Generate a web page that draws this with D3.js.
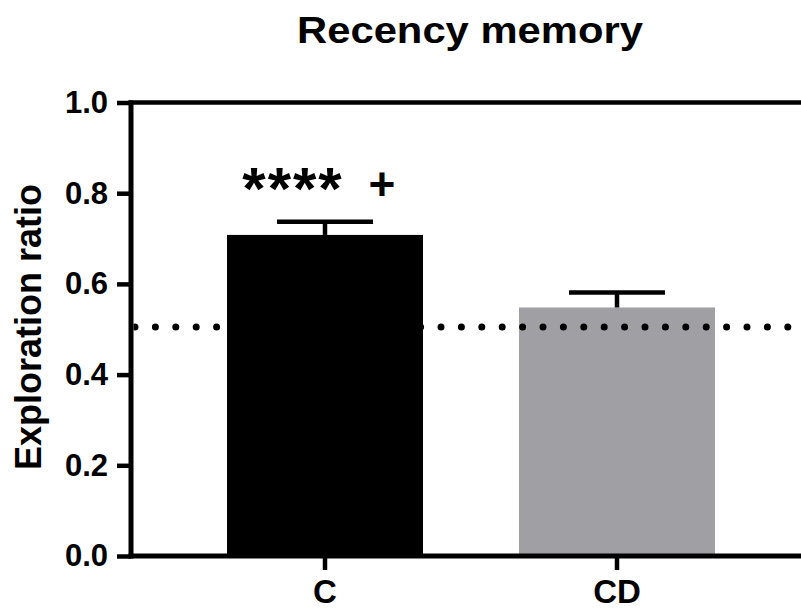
<!DOCTYPE html>
<head>
  <meta charset="UTF-8">
  <title>Recency memory</title>
  <style>
  body, html, svg{
    padding: 0;
    margin: 0;
  }
  body{
    background: #fff;
  }
  text{
    font-family: "Liberation Sans", Arial, Helvetica, sans-serif;
    font-weight: bold;
  }
  </style>
</head>
<body>
  <script src="https://cdn.jsdelivr.net/npm/d3@7"></script>
  <script type="text/javascript">
  var width = 801;
  var height = 609;

  // data
  var categories = ['C', 'CD'];
  var means = [0.708, 0.548];
  var sems = [0.029, 0.033];
  var barColors = ['#000000', '#a09fa4'];
  var yTicks = [0, 0.2, 0.4, 0.6, 0.8, 1.0];
  var chance = 0.505;
  var marks = ['****', '+'];

  var svg = d3.select('body')
    .append('svg')
    .attr('width', width)
    .attr('height', height);

  var pLeft = 131, pRight = 801, pTop = 102.5, pBottom = 556;

  var y = d3.scaleLinear().domain([0, 1]).range([pBottom, pTop]);
  var x = d3.scaleBand()
    .domain(categories)
    .range([179, 763])
    .paddingInner(0.3288)
    .paddingOuter(0.1644);

  // title
  svg.append('text')
    .attr('x', 297)
    .attr('y', 43)
    .attr('font-size', 36)
    .attr('textLength', 346)
    .attr('lengthAdjust', 'spacingAndGlyphs')
    .text('Recency memory');

  // y label
  svg.append('text')
    .attr('transform', 'translate(41,327) rotate(-90)')
    .attr('text-anchor', 'middle')
    .attr('font-size', 36)
    .text('Exploration ratio');

  // bars
  svg.append('g')
    .selectAll('rect')
    .data(categories)
    .enter()
    .append('rect')
    .attr('x', function(d){ return x(d); })
    .attr('y', function(d, i){ return y(means[i]); })
    .attr('width', x.bandwidth())
    .attr('height', function(d, i){ return pBottom - y(means[i]); })
    .attr('fill', function(d, i){ return barColors[i]; });

  // error bars (upper only)
  var eb = svg.append('g').attr('stroke', '#000').attr('stroke-width', 4.5);
  categories.forEach(function(c, i){
    var cx = x(c) + x.bandwidth() / 2;
    var capW = x.bandwidth() * 0.49;
    eb.append('line')
      .attr('x1', cx).attr('x2', cx)
      .attr('y1', y(means[i])).attr('y2', y(means[i] + sems[i]));
    eb.append('line')
      .attr('x1', cx - capW / 2).attr('x2', cx + capW / 2)
      .attr('y1', y(means[i] + sems[i])).attr('y2', y(means[i] + sems[i]));
  });

  // dotted chance line
  svg.append('defs').append('clipPath').attr('id', 'plot')
    .append('rect').attr('x', pLeft + 2.5).attr('y', pTop).attr('width', pRight - pLeft).attr('height', pBottom - pTop);
  svg.append('line')
    .attr('clip-path', 'url(#plot)')
    .attr('x1', 135).attr('x2', pRight + 10)
    .attr('y1', y(chance)).attr('y2', y(chance))
    .attr('stroke', '#000')
    .attr('stroke-width', 7)
    .attr('stroke-linecap', 'round')
    .attr('stroke-dasharray', '0 20.4');

  // y axis
  var yAxis = svg.append('g')
    .attr('transform', 'translate(' + pLeft + ',0)')
    .call(d3.axisLeft(y).tickValues(yTicks).tickFormat(d3.format('.1f')).tickSize(14).tickPadding(9));
  yAxis.select('.domain').remove();
  yAxis.selectAll('line').attr('stroke', '#000').attr('stroke-width', 4.5);
  yAxis.selectAll('text').attr('font-size', 31).attr('fill', '#000')
    .attr('font-family', '"Liberation Sans", Arial, sans-serif').attr('font-weight', 'bold');

  // axis lines
  svg.append('line')
    .attr('x1', pLeft).attr('x2', pLeft)
    .attr('y1', pTop - 2).attr('y2', pBottom + 2.5)
    .attr('stroke', '#000').attr('stroke-width', 5);
  svg.append('line')
    .attr('x1', pLeft - 2.5).attr('x2', pRight)
    .attr('y1', pTop).attr('y2', pTop)
    .attr('stroke', '#000').attr('stroke-width', 4.5);

  // x axis
  var xAxis = svg.append('g')
    .attr('transform', 'translate(0,' + pBottom + ')')
    .call(d3.axisBottom(x).tickSize(14).tickPadding(10));
  xAxis.select('.domain').remove();
  xAxis.selectAll('line').attr('stroke', '#000').attr('stroke-width', 4.5);
  xAxis.selectAll('text').attr('font-size', 33).attr('fill', '#000')
    .attr('font-family', '"Liberation Sans", Arial, sans-serif').attr('font-weight', 'bold');
  svg.append('line')
    .attr('x1', pLeft - 2.5).attr('x2', pRight)
    .attr('y1', pBottom).attr('y2', pBottom)
    .attr('stroke', '#000').attr('stroke-width', 5);

  // significance marks
  svg.append('text')
    .attr('x', 293).attr('y', 209)
    .attr('text-anchor', 'middle')
    .attr('font-size', 60)
    .attr('letter-spacing', 2)
    .text(marks[0]);
  svg.append('text')
    .attr('x', 382).attr('y', 200)
    .attr('text-anchor', 'middle')
    .attr('font-size', 46)
    .text(marks[1]);
  </script>
</body>
</html>
